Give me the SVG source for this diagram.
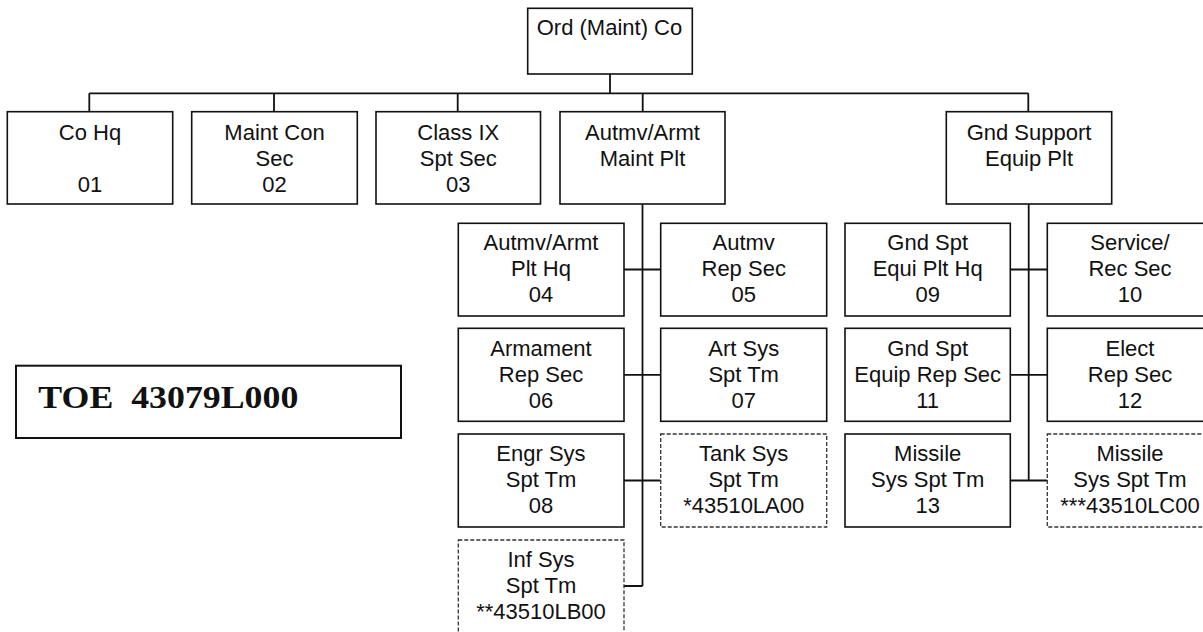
<svg xmlns="http://www.w3.org/2000/svg" width="1203" height="632" viewBox="0 0 1203 632">
<style>
  .box{fill:#fff;stroke:#111;stroke-width:1.6}
  .dash{fill:#fff;stroke:#333;stroke-width:1.3;stroke-dasharray:4 2}
  .t{font-family:"Liberation Sans",Arial,sans-serif;font-size:22px;fill:#111;text-anchor:middle}
  .conn{fill:none;stroke:#111;stroke-width:1.8}
  .toe{font-family:"Liberation Serif","Times New Roman",serif;font-size:32px;font-weight:bold;fill:#111}
</style>
<rect width="1203" height="632" fill="#fff"/>
<g id="connectors" class="conn">
  <path d="M610 74V93.3M89.3 93.3H1028.3M89.3 93.3V111.7M274 93.3V111.7M457.7 93.3V111.7M642.7 93.3V111.7M1028.3 93.3V111.7"/>
  <path d="M642.5 204V586M624 269.5H660.7M624 374.8H660.7M624 480.5H660.7M624 586H642.5"/>
  <path d="M1028.7 204V480.5M1010.3 269.5H1047.3M1010.3 374.8H1047.3M1010.3 480.5H1047.3"/>
</g>
<g id="n-root">
  <rect class="box" x="527.7" y="8.3" width="164.6" height="65.7"/>
  <text class="t" x="609.5" y="34.5">Ord (Maint) Co</text>
</g>
<g id="n-cohq">
  <rect class="box" x="7.3" y="111.7" width="165.4" height="92.3"/>
  <text class="t" x="90" y="139.5">Co Hq</text>
  <text class="t" x="90" y="191.5">01</text>
</g>
<g id="n-maintcon">
  <rect class="box" x="191.7" y="111.7" width="165.6" height="92.3"/>
  <text class="t" x="274.5" y="139.5">Maint Con</text>
  <text class="t" x="274.5" y="165.5">Sec</text>
  <text class="t" x="274.5" y="191.5">02</text>
</g>
<g id="n-classix">
  <rect class="box" x="376" y="111.7" width="164.5" height="92.3"/>
  <text class="t" x="458.3" y="139.5">Class IX</text>
  <text class="t" x="458.3" y="165.5">Spt Sec</text>
  <text class="t" x="458.3" y="191.5">03</text>
</g>
<g id="n-autmvplt">
  <rect class="box" x="560" y="111.7" width="165" height="92.3"/>
  <text class="t" x="642.5" y="139.5">Autmv/Armt</text>
  <text class="t" x="642.5" y="165.5">Maint Plt</text>
</g>
<g id="n-gndplt">
  <rect class="box" x="946.3" y="111.7" width="165.4" height="92.3"/>
  <text class="t" x="1029" y="139.5">Gnd Support</text>
  <text class="t" x="1029" y="165.5">Equip Plt</text>
</g>
<g id="n-04">
  <rect class="box" x="458.3" y="223.3" width="165.7" height="92.7"/>
  <text class="t" x="541" y="250">Autmv/Armt</text>
  <text class="t" x="541" y="276">Plt Hq</text>
  <text class="t" x="541" y="302">04</text>
</g>
<g id="n-05">
  <rect class="box" x="660.7" y="223.3" width="166" height="92.7"/>
  <text class="t" x="743.7" y="250">Autmv</text>
  <text class="t" x="743.7" y="276">Rep Sec</text>
  <text class="t" x="743.7" y="302">05</text>
</g>
<g id="n-06">
  <rect class="box" x="458.3" y="328.3" width="165.7" height="93"/>
  <text class="t" x="541" y="355.5">Armament</text>
  <text class="t" x="541" y="381.5">Rep Sec</text>
  <text class="t" x="541" y="407.5">06</text>
</g>
<g id="n-07">
  <rect class="box" x="660.7" y="328.3" width="166" height="93"/>
  <text class="t" x="743.7" y="355.5">Art Sys</text>
  <text class="t" x="743.7" y="381.5">Spt Tm</text>
  <text class="t" x="743.7" y="407.5">07</text>
</g>
<g id="n-08">
  <rect class="box" x="458.3" y="434" width="165.7" height="93"/>
  <text class="t" x="541" y="461">Engr Sys</text>
  <text class="t" x="541" y="487">Spt Tm</text>
  <text class="t" x="541" y="513">08</text>
</g>
<g id="n-tank">
  <rect class="dash" x="660.7" y="434" width="166" height="93"/>
  <text class="t" x="743.7" y="461">Tank Sys</text>
  <text class="t" x="743.7" y="487">Spt Tm</text>
  <text class="t" x="743.7" y="513">*43510LA00</text>
</g>
<g id="n-inf">
  <rect class="dash" x="458.3" y="540" width="165.7" height="93"/>
  <text class="t" x="541" y="566.5">Inf Sys</text>
  <text class="t" x="541" y="592.5">Spt Tm</text>
  <text class="t" x="541" y="619">**43510LB00</text>
</g>
<g id="n-09">
  <rect class="box" x="845" y="223.3" width="165.3" height="92.7"/>
  <text class="t" x="927.7" y="250">Gnd Spt</text>
  <text class="t" x="927.7" y="276">Equi Plt Hq</text>
  <text class="t" x="927.7" y="302">09</text>
</g>
<g id="n-10">
  <rect class="box" x="1047.3" y="223.3" width="166" height="92.7"/>
  <text class="t" x="1130" y="250">Service/</text>
  <text class="t" x="1130" y="276">Rec Sec</text>
  <text class="t" x="1130" y="302">10</text>
</g>
<g id="n-11">
  <rect class="box" x="845" y="328.3" width="165.3" height="93"/>
  <text class="t" x="927.7" y="355.5">Gnd Spt</text>
  <text class="t" x="927.7" y="381.5">Equip Rep Sec</text>
  <text class="t" x="927.7" y="407.5">11</text>
</g>
<g id="n-12">
  <rect class="box" x="1047.3" y="328.3" width="166" height="93"/>
  <text class="t" x="1130" y="355.5">Elect</text>
  <text class="t" x="1130" y="381.5">Rep Sec</text>
  <text class="t" x="1130" y="407.5">12</text>
</g>
<g id="n-13">
  <rect class="box" x="845" y="434" width="165.3" height="93"/>
  <text class="t" x="927.7" y="461">Missile</text>
  <text class="t" x="927.7" y="487">Sys Spt Tm</text>
  <text class="t" x="927.7" y="513">13</text>
</g>
<g id="n-missile2">
  <rect class="dash" x="1047.3" y="434" width="166" height="93"/>
  <text class="t" x="1130" y="461">Missile</text>
  <text class="t" x="1130" y="487">Sys Spt Tm</text>
  <text class="t" x="1130" y="513">***43510LC00</text>
</g>
<g id="toe">
  <rect class="box" x="16" y="365.7" width="385" height="72.3" style="stroke-width:2"/>
  <text class="toe" x="38.3" y="407.7" xml:space="preserve" textLength="260" lengthAdjust="spacingAndGlyphs">TOE  43079L000</text>
</g>
</svg>
